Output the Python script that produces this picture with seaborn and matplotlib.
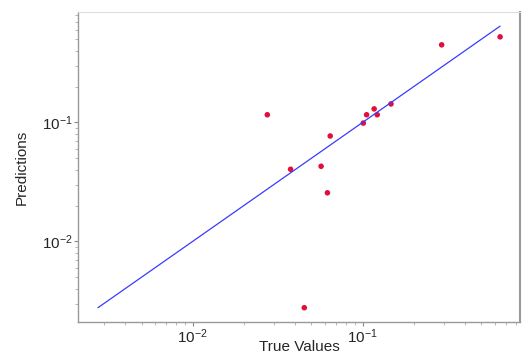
import numpy as np
import pandas as pd
import seaborn as sns
import matplotlib
matplotlib.use('Agg')
from matplotlib import pyplot as plt

# 读图估计的数据
true_values = [0.0275, 0.292, 0.645, 0.147, 0.117, 0.1056, 0.122, 0.101,
               0.0645, 0.0377, 0.057, 0.0621, 0.0454]
predictions = [0.116, 0.449, 0.524, 0.143, 0.130, 0.116, 0.116, 0.0987,
               0.0769, 0.0404, 0.0428, 0.0256, 0.00277]

df = pd.DataFrame({'true': true_values, 'pred': predictions})

sns.set_style('white')
plt.rcParams['font.family'] = ['Liberation Sans', 'DejaVu Sans']
plt.rcParams['mathtext.default'] = 'regular'

fig = plt.figure(figsize=(5.26, 3.54), dpi=100)
ax = fig.add_axes([0.148, 0.091, 0.841, 0.875])

# 对角线 y = x
lo = min(df['true'].min(), df['pred'].min())
hi = max(df['true'].max(), df['pred'].max())
line = pd.DataFrame({'x': [lo, hi], 'y': [lo, hi]})
sns.lineplot(data=line, x='x', y='y', ax=ax, color='#3a3aff', linewidth=0.9)

sns.scatterplot(data=df, x='true', y='pred', ax=ax, color='#e0103c',
                s=16, edgecolor='none', marker='o')

ax.set_xscale('log')
ax.set_yscale('log')
ax.margins(0.05)

ax.set_xlabel('True Values', fontsize=11)
ax.xaxis.label.set_va('baseline')
ax.xaxis.set_label_coords(0.5, -0.094)
ax.set_ylabel('Predictions', fontsize=11)
ax.yaxis.set_label_coords(-0.112, 0.5)
ax.tick_params(axis='both', which='major', labelsize=11, length=3, pad=1,
               color='#888888', direction='out', bottom=True, left=True)
ax.tick_params(axis='both', which='minor', length=2, color='#aaaaaa',
               direction='out', bottom=True, left=True)

for side in ['left', 'bottom']:
    ax.spines[side].set_color('#999999')
    ax.spines[side].set_linewidth(1.0)
ax.spines['top'].set_color('#dddddd')
ax.spines['right'].set_color('#999999')
ax.spines['right'].set_linewidth(1.5)

fig.savefig('out.png', dpi=100)
